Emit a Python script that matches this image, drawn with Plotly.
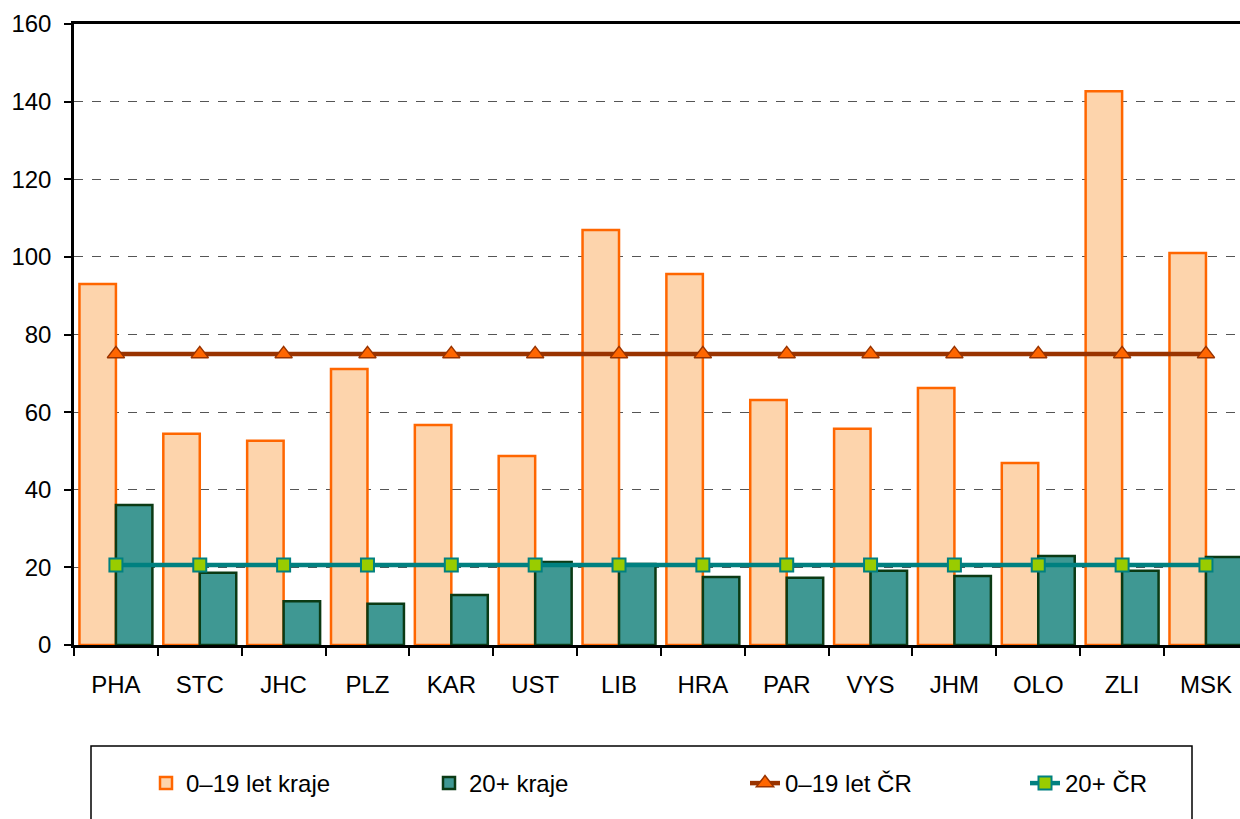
import plotly.graph_objects as go

categories = ["PHA", "STC", "JHC", "PLZ", "KAR", "UST", "LIB", "HRA", "PAR", "VYS", "JHM", "OLO", "ZLI", "MSK"]
kraje_0_19 = [93.0, 54.4, 52.6, 71.1, 56.7, 48.7, 106.9, 95.6, 63.1, 55.7, 66.2, 46.9, 142.7, 101.0]
kraje_20 = [36.1, 18.6, 11.3, 10.6, 12.9, 21.4, 20.9, 17.5, 17.3, 19.1, 17.8, 22.9, 19.1, 22.7]
cr_0_19 = [75.0] * len(categories)
cr_20 = [20.6] * len(categories)
y_ticks = [0, 20, 40, 60, 80, 100, 120, 140, 160]

FONT = "Liberation Sans, Arial, sans-serif"
W, H = 1240, 819

fig = go.Figure()
fig.add_trace(go.Bar(
    x=categories, y=kraje_0_19, name="0–19 let kraje", legend="legend",
    marker=dict(color="#FDD4AC", line=dict(color="#FF6600", width=2.5)),
))
fig.add_trace(go.Bar(
    x=categories, y=kraje_20, name="20+ kraje", legend="legend2",
    marker=dict(color="#3F9893", line=dict(color="#0B3A14", width=2.5)),
))
fig.add_trace(go.Scatter(
    x=categories, y=cr_0_19, name="0–19 let ČR", mode="lines+markers", legend="legend3",
    line=dict(color="#993300", width=4.5),
    marker=dict(symbol="triangle-up", size=15, color="#FF6600", line=dict(color="#993300", width=1.5)),
))
fig.add_trace(go.Scatter(
    x=categories, y=cr_20, name="20+ ČR", mode="lines+markers", legend="legend4",
    line=dict(color="#008080", width=4.5),
    marker=dict(symbol="square", size=13, color="#99CC00", line=dict(color="#008080", width=2)),
))

PW = 1166.0
PH = 621.0
def px(x):
    return (x - 74) / PW
def py(y):
    return (645 - y) / PH

fig.add_shape(type="rect", xref="paper", yref="paper",
              x0=px(91), x1=px(1192), y0=py(746), y1=py(840),
              line=dict(color="black", width=1.5), fillcolor="rgba(0,0,0,0)")

def leg(xpix):
    return dict(orientation="h", xref="container", yref="container",
                x=xpix / W, y=1 - 761 / H, xanchor="left", yanchor="top",
                font=dict(family=FONT, size=24, color="black"),
                bgcolor="rgba(0,0,0,0)", borderwidth=0)

fig.update_layout(
    width=W, height=H,
    margin=dict(l=74, r=0, t=24, b=174),
    paper_bgcolor="white", plot_bgcolor="white",
    barmode="group", bargap=0.13, bargroupgap=0,
    font=dict(family=FONT, size=24, color="black"),
    showlegend=True,
    legend=leg(146), legend2=leg(429), legend3=leg(745), legend4=leg(1025),
    xaxis=dict(range=[-0.5, 13.406], showline=True, linecolor="black", linewidth=2.5,
               mirror=True, ticks="outside", ticklen=8, tickwidth=2, tickcolor="black",
               tickson="boundaries", showgrid=False, tickfont=dict(size=24),
               ticklabelstandoff=16, automargin=False),
    yaxis=dict(range=[0, 160], tickvals=y_ticks, showline=True, linecolor="black", linewidth=2.5,
               ticks="outside", ticklen=7, tickwidth=2, tickcolor="black",
               showgrid=True, gridcolor="#555555", griddash="dash", gridwidth=1,
               zeroline=False, tickfont=dict(size=24), ticklabelstandoff=8,
               automargin=False),
)

fig.write_html("out.html", config={"displayModeBar": False},
               post_script="document.body.style.margin='0';document.body.style.overflow='hidden';")
